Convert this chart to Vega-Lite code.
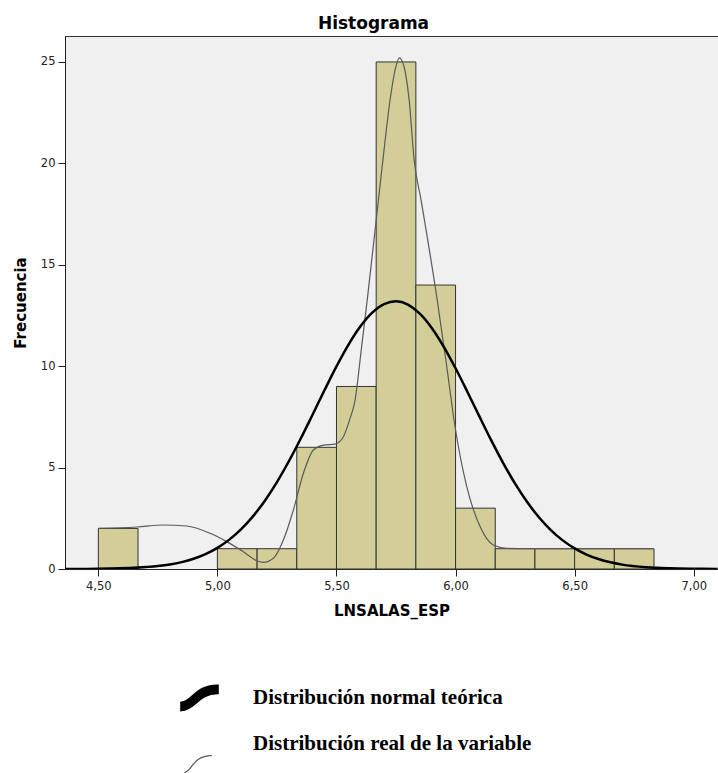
{
  "$schema": "https://vega.github.io/schema/vega-lite/v6.json",
  "autosize": "none",
  "width": 653,
  "height": 533,
  "padding": {"left": 65, "top": 36, "right": 0, "bottom": 204},
  "background": "white",
  "title": {
    "text": "Histograma",
    "font": "DejaVu Sans",
    "fontSize": 17,
    "fontWeight": "bold",
    "color": "#000",
    "anchor": "middle",
    "dx": -18,
    "dy": 17,
    "baseline": "alphabetic",
    "offset": 7
  },
  "config": {
    "view": {"fill": "#F0F0F0", "stroke": "#333", "strokeWidth": 1},
    "axis": {
      "grid": false,
      "domainColor": "#222",
      "tickColor": "#222",
      "tickSize": 7,
      "labelFont": "DejaVu Sans",
      "labelFontSize": 11.5,
      "labelColor": "#222",
      "titleFont": "DejaVu Sans",
      "titleFontSize": 15,
      "titleFontWeight": "bold",
      "titleColor": "#000"
    }
  },
  "datasets": {
    "bins": [
      {"bin_start": 4.5, "bin_end": 4.6667, "count": 2},
      {"bin_start": 5.0, "bin_end": 5.1667, "count": 1},
      {"bin_start": 5.1667, "bin_end": 5.3333, "count": 1},
      {"bin_start": 5.3333, "bin_end": 5.5, "count": 6},
      {"bin_start": 5.5, "bin_end": 5.6667, "count": 9},
      {"bin_start": 5.6667, "bin_end": 5.8333, "count": 25},
      {"bin_start": 5.8333, "bin_end": 6.0, "count": 14},
      {"bin_start": 6.0, "bin_end": 6.1667, "count": 3},
      {"bin_start": 6.1667, "bin_end": 6.3333, "count": 1},
      {"bin_start": 6.3333, "bin_end": 6.5, "count": 1},
      {"bin_start": 6.5, "bin_end": 6.6667, "count": 1},
      {"bin_start": 6.6667, "bin_end": 6.8333, "count": 1}
    ],
    "curves": [
      {"serie": "Distribución real de la variable", "x": 4.5, "y": 2.0},
      {"serie": "Distribución real de la variable", "x": 4.661, "y": 2.07},
      {"serie": "Distribución real de la variable", "x": 4.773, "y": 2.17},
      {"serie": "Distribución real de la variable", "x": 4.871, "y": 2.12},
      {"serie": "Distribución real de la variable", "x": 4.969, "y": 1.76},
      {"serie": "Distribución real de la variable", "x": 5.039, "y": 1.35},
      {"serie": "Distribución real de la variable", "x": 5.109, "y": 0.85},
      {"serie": "Distribución real de la variable", "x": 5.165, "y": 0.41},
      {"serie": "Distribución real de la variable", "x": 5.193, "y": 0.33},
      {"serie": "Distribución real de la variable", "x": 5.235, "y": 0.53},
      {"serie": "Distribución real de la variable", "x": 5.277, "y": 1.43},
      {"serie": "Distribución real de la variable", "x": 5.319, "y": 2.91},
      {"serie": "Distribución real de la variable", "x": 5.361, "y": 4.72},
      {"serie": "Distribución real de la variable", "x": 5.403, "y": 5.87},
      {"serie": "Distribución real de la variable", "x": 5.445, "y": 6.11},
      {"serie": "Distribución real de la variable", "x": 5.494, "y": 6.16},
      {"serie": "Distribución real de la variable", "x": 5.529, "y": 6.52},
      {"serie": "Distribución real de la variable", "x": 5.555, "y": 7.35},
      {"serie": "Distribución real de la variable", "x": 5.578, "y": 8.33},
      {"serie": "Distribución real de la variable", "x": 5.605, "y": 10.9},
      {"serie": "Distribución real de la variable", "x": 5.629, "y": 13.26},
      {"serie": "Distribución real de la variable", "x": 5.662, "y": 16.7},
      {"serie": "Distribución real de la variable", "x": 5.695, "y": 20.17},
      {"serie": "Distribución real de la variable", "x": 5.725, "y": 23.13},
      {"serie": "Distribución real de la variable", "x": 5.746, "y": 24.6},
      {"serie": "Distribución real de la variable", "x": 5.764, "y": 25.2},
      {"serie": "Distribución real de la variable", "x": 5.783, "y": 24.8},
      {"serie": "Distribución real de la variable", "x": 5.805, "y": 23.13},
      {"serie": "Distribución real de la variable", "x": 5.826, "y": 20.17},
      {"serie": "Distribución real de la variable", "x": 5.855, "y": 18.2},
      {"serie": "Distribución real de la variable", "x": 5.923, "y": 13.26},
      {"serie": "Distribución real de la variable", "x": 5.963, "y": 9.98},
      {"serie": "Distribución real de la variable", "x": 5.998, "y": 7.0},
      {"serie": "Distribución real de la variable", "x": 6.047, "y": 4.06},
      {"serie": "Distribución real de la variable", "x": 6.103, "y": 2.09},
      {"serie": "Distribución real de la variable", "x": 6.158, "y": 1.18},
      {"serie": "Distribución real de la variable", "x": 6.215, "y": 1.02},
      {"serie": "Distribución real de la variable", "x": 6.3, "y": 1.0},
      {"serie": "Distribución real de la variable", "x": 6.45, "y": 1.0},
      {"serie": "Distribución real de la variable", "x": 6.6, "y": 1.0},
      {"serie": "Distribución real de la variable", "x": 6.7, "y": 1.0},
      {"serie": "Distribución real de la variable", "x": 6.833, "y": 1.0},
      {"serie": "Distribución normal teórica", "x": 4.36, "y": 0.002},
      {"serie": "Distribución normal teórica", "x": 4.45, "y": 0.006},
      {"serie": "Distribución normal teórica", "x": 4.55, "y": 0.02},
      {"serie": "Distribución normal teórica", "x": 4.65, "y": 0.056},
      {"serie": "Distribución normal teórica", "x": 4.75, "y": 0.144},
      {"serie": "Distribución normal teórica", "x": 4.8, "y": 0.224},
      {"serie": "Distribución normal teórica", "x": 4.85, "y": 0.34},
      {"serie": "Distribución normal teórica", "x": 4.9, "y": 0.506},
      {"serie": "Distribución normal teórica", "x": 4.95, "y": 0.735},
      {"serie": "Distribución normal teórica", "x": 5.0, "y": 1.043},
      {"serie": "Distribución normal teórica", "x": 5.05, "y": 1.448},
      {"serie": "Distribución normal teórica", "x": 5.1, "y": 1.965},
      {"serie": "Distribución normal teórica", "x": 5.15, "y": 2.607},
      {"serie": "Distribución normal teórica", "x": 5.2, "y": 3.381},
      {"serie": "Distribución normal teórica", "x": 5.25, "y": 4.286},
      {"serie": "Distribución normal teórica", "x": 5.3, "y": 5.312},
      {"serie": "Distribución normal teórica", "x": 5.35, "y": 6.434},
      {"serie": "Distribución normal teórica", "x": 5.4, "y": 7.62},
      {"serie": "Distribución normal teórica", "x": 5.45, "y": 8.823},
      {"serie": "Distribución normal teórica", "x": 5.5, "y": 9.987},
      {"serie": "Distribución normal teórica", "x": 5.55, "y": 11.05},
      {"serie": "Distribución normal teórica", "x": 5.6, "y": 11.951},
      {"serie": "Distribución normal teórica", "x": 5.65, "y": 12.637},
      {"serie": "Distribución normal teórica", "x": 5.7, "y": 13.063},
      {"serie": "Distribución normal teórica", "x": 5.75, "y": 13.2},
      {"serie": "Distribución normal teórica", "x": 5.8, "y": 13.039},
      {"serie": "Distribución normal teórica", "x": 5.85, "y": 12.591},
      {"serie": "Distribución normal teórica", "x": 5.9, "y": 11.887},
      {"serie": "Distribución normal teórica", "x": 5.95, "y": 10.969},
      {"serie": "Distribución normal teórica", "x": 6.0, "y": 9.896},
      {"serie": "Distribución normal teórica", "x": 6.05, "y": 8.728},
      {"serie": "Distribución normal teórica", "x": 6.1, "y": 7.524},
      {"serie": "Distribución normal teórica", "x": 6.15, "y": 6.341},
      {"serie": "Distribución normal teórica", "x": 6.2, "y": 5.225},
      {"serie": "Distribución normal teórica", "x": 6.25, "y": 4.208},
      {"serie": "Distribución normal teórica", "x": 6.3, "y": 3.313},
      {"serie": "Distribución normal teórica", "x": 6.35, "y": 2.55},
      {"serie": "Distribución normal teórica", "x": 6.4, "y": 1.919},
      {"serie": "Distribución normal teórica", "x": 6.45, "y": 1.411},
      {"serie": "Distribución normal teórica", "x": 6.5, "y": 1.015},
      {"serie": "Distribución normal teórica", "x": 6.55, "y": 0.714},
      {"serie": "Distribución normal teórica", "x": 6.6, "y": 0.49},
      {"serie": "Distribución normal teórica", "x": 6.65, "y": 0.329},
      {"serie": "Distribución normal teórica", "x": 6.7, "y": 0.216},
      {"serie": "Distribución normal teórica", "x": 6.8, "y": 0.087},
      {"serie": "Distribución normal teórica", "x": 6.9, "y": 0.032},
      {"serie": "Distribución normal teórica", "x": 7.0, "y": 0.011},
      {"serie": "Distribución normal teórica", "x": 7.1, "y": 0.003}
    ]
  },
  "layer": [
    {
      "data": {"name": "bins"},
      "mark": {"type": "rect", "fill": "#D3CE97", "stroke": "#333", "strokeWidth": 1, "opacity": 1},
      "encoding": {
        "x": {
          "field": "bin_start",
          "type": "quantitative",
          "scale": {"domain": [4.36, 7.102], "nice": false, "zero": false},
          "axis": {
            "title": "LNSALAS_ESP",
            "values": [4.5, 5.0, 5.5, 6.0, 6.5, 7.0],
            "labelExpr": "replace(format(datum.value, '.2f'), '.', ',')",
            "labelPadding": 4,
            "titlePadding": 12
          }
        },
        "x2": {"field": "bin_end"},
        "y": {
          "field": "count",
          "type": "quantitative",
          "scale": {"domain": [0, 26.28], "nice": false},
          "axis": {
            "title": "Frecuencia",
            "values": [0, 5, 10, 15, 20, 25],
            "labelPadding": 3,
            "titlePadding": 12
          }
        },
        "y2": {"datum": 0}
      }
    },
    {
      "data": {"name": "curves"},
      "mark": {"type": "line", "interpolate": "monotone", "clip": true},
      "encoding": {
        "x": {"field": "x", "type": "quantitative"},
        "y": {"field": "y", "type": "quantitative"},
        "color": {
          "field": "serie",
          "type": "nominal",
          "scale": {
            "domain": ["Distribución normal teórica", "Distribución real de la variable"],
            "range": ["#000000", "#5a5a5a"]
          },
          "legend": {
            "orient": "none",
            "legendX": 114,
            "legendY": 641,
            "title": null,
            "direction": "vertical",
            "labelFont": "Liberation Serif",
            "labelFontSize": 21,
            "labelFontWeight": "bold",
            "labelColor": "#000",
            "labelLimit": 500,
            "symbolSize": 1444,
            "labelOffset": 33,
            "rowPadding": 8,
            "padding": 0,
            "encode": {
              "symbols": {
                "update": {
                  "shape": {"signal": "datum.value === 'Distribución normal teórica' ? 'M-0.95,0.28 C-0.3,0.2 -0.3,-0.58 0.95,-0.62 L0.95,-0.24 C-0.1,-0.22 -0.2,0.6 -0.95,0.66 Z' : 'M-0.8,1.5 C-0.35,1.45 -0.45,0.65 0.65,0.6'"},
                  "strokeWidth": {"signal": "datum.value === 'Distribución normal teórica' ? 0 : 1.2"},
                  "stroke": {"value": "#000"},
                  "fill": {"signal": "datum.value === 'Distribución normal teórica' ? '#000' : 'transparent'"},
                  "strokeCap": {"value": "butt"},
                  "opacity": {"value": 1}
                }
              }
            }
          }
        },
        "strokeWidth": {
          "field": "serie",
          "type": "nominal",
          "scale": {
            "domain": ["Distribución normal teórica", "Distribución real de la variable"],
            "range": [2.5, 1.2]
          },
          "legend": null
        },
        "order": {"field": "serie", "sort": "descending"}
      }
    }
  ]
}
